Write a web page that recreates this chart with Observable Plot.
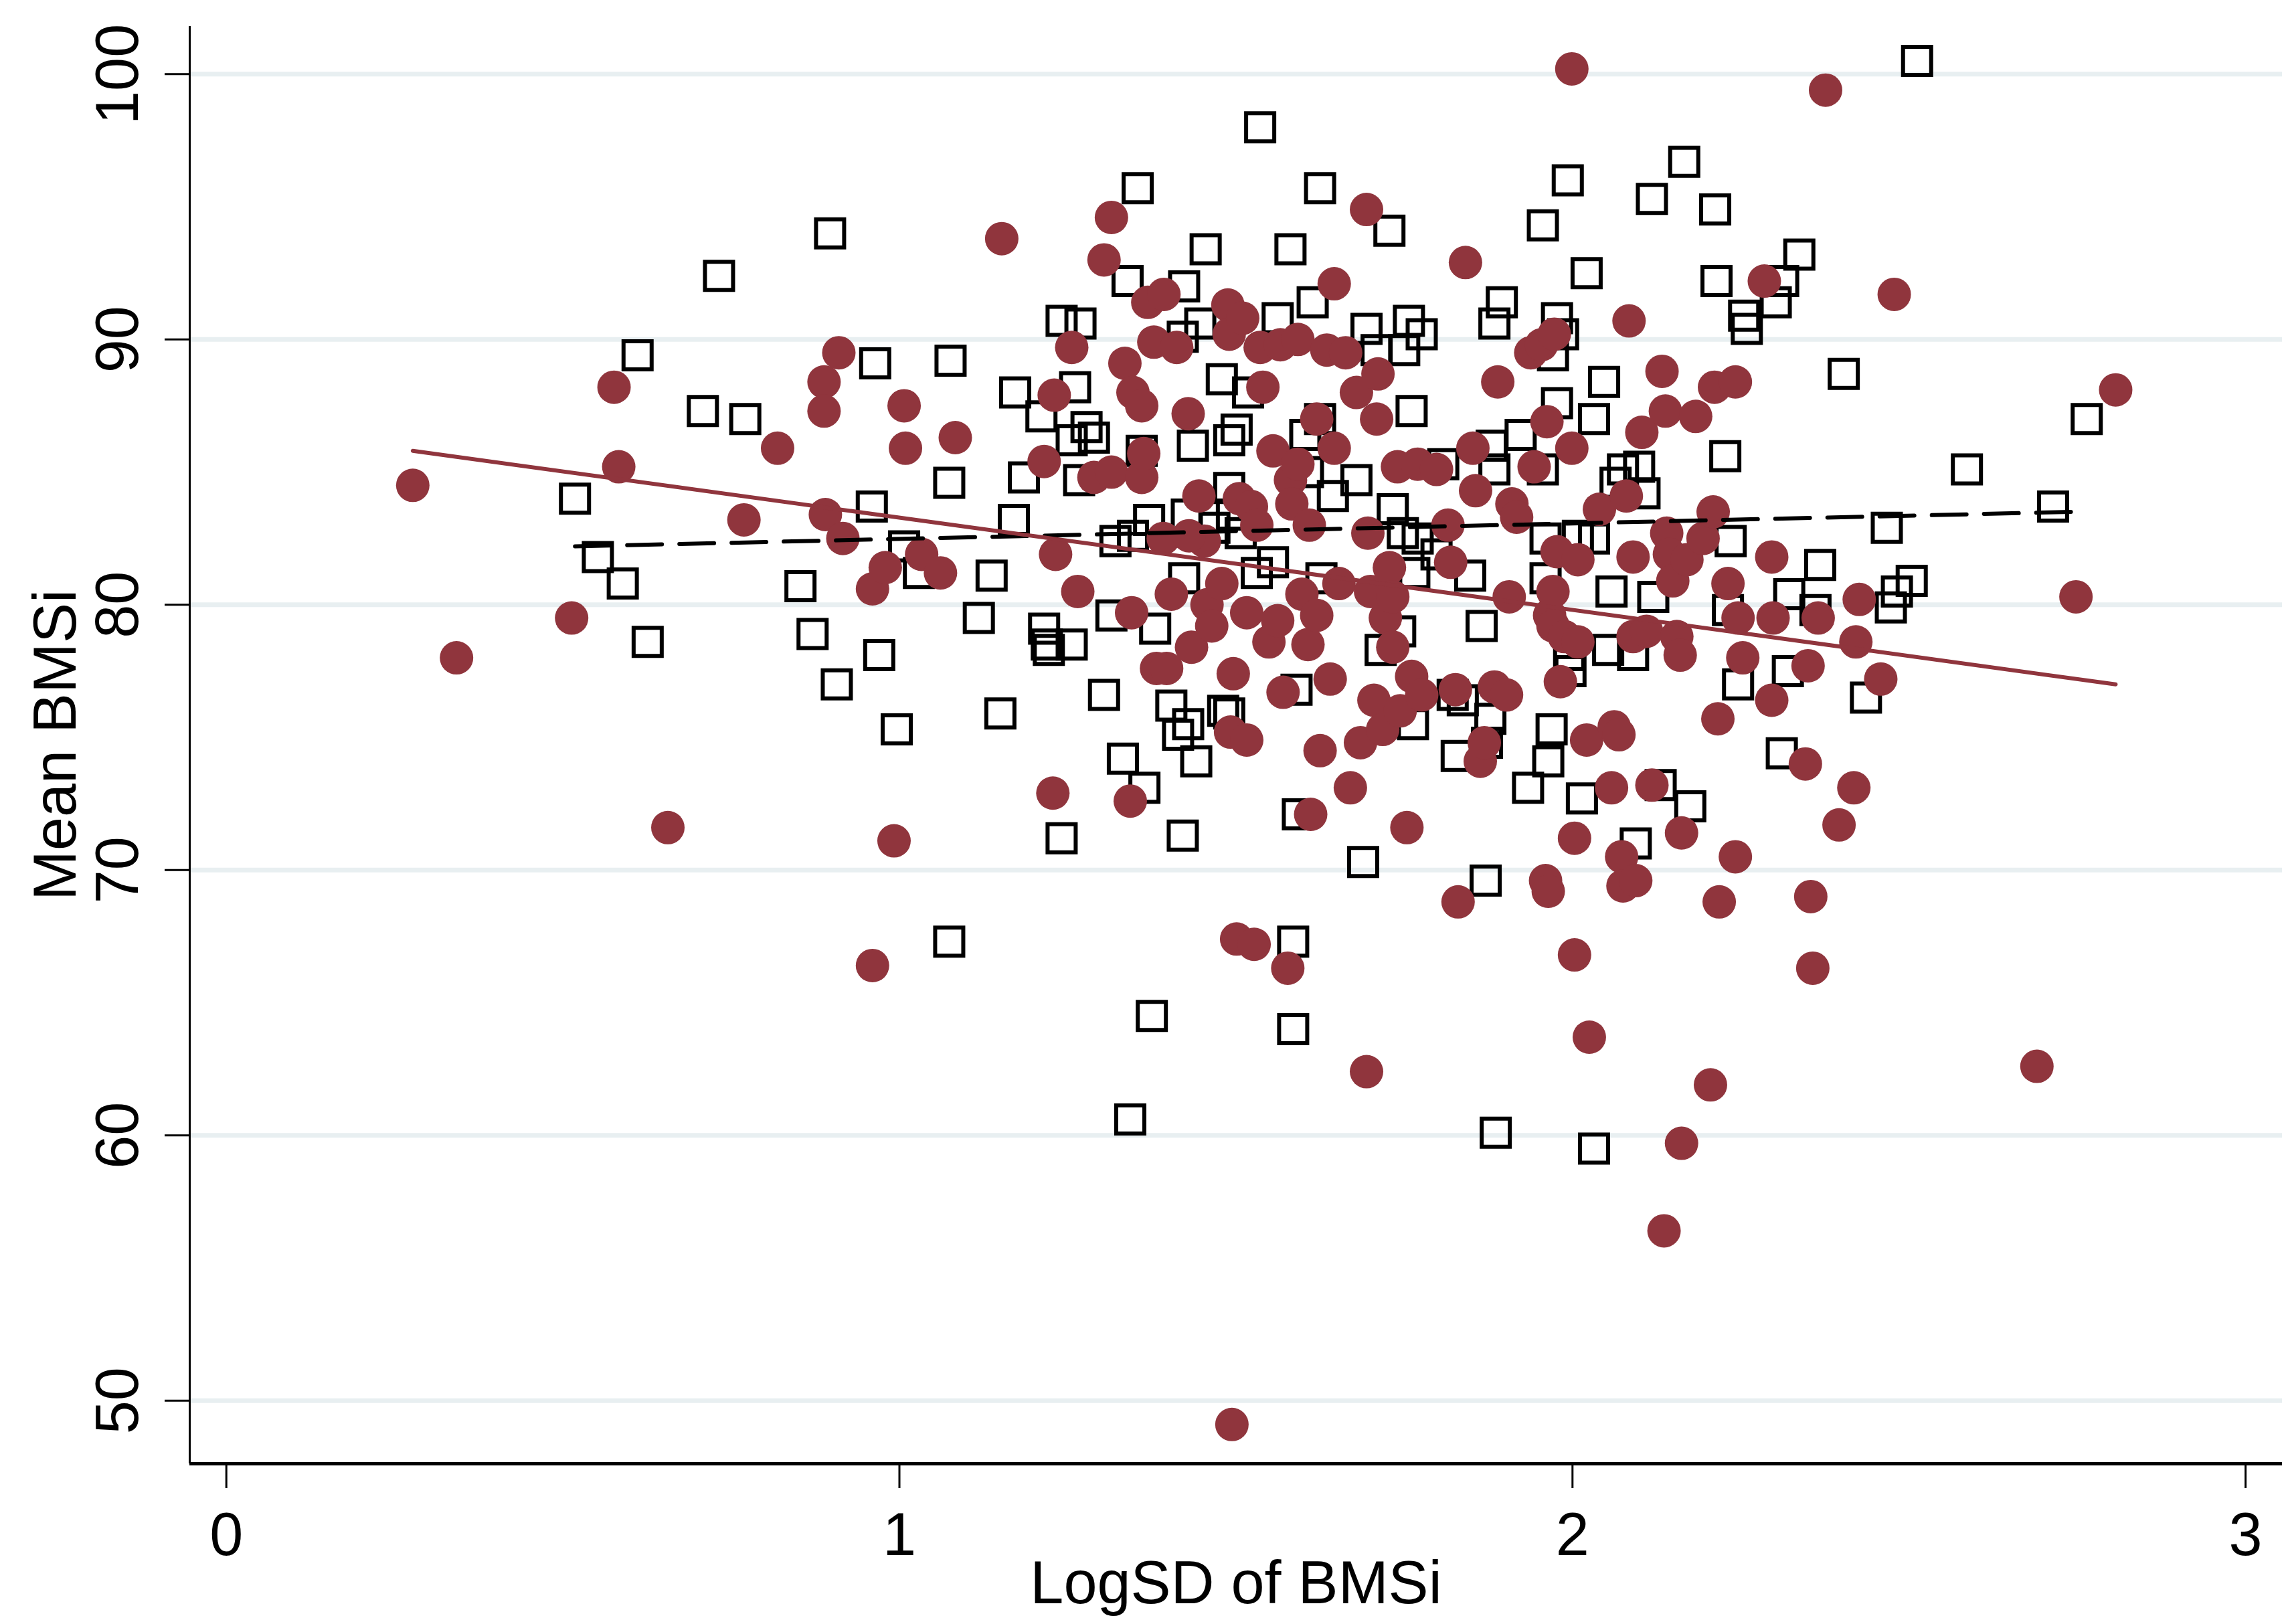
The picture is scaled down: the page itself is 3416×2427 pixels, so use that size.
<!DOCTYPE html>
<html>
<head>
<meta charset="utf-8">
<script src="https://cdn.jsdelivr.net/npm/d3@7"></script>
<script src="https://cdn.jsdelivr.net/npm/@observablehq/plot@0.6"></script>
<style>
html, body { margin: 0; padding: 0; background: #ffffff; overflow: hidden; }
#chart svg { display: block; }
</style>
</head>
<body>
<div id="chart"></div>
<script>
// ---- Data ----
const squareX = [0.518,0.552,0.589,0.611,0.626,0.708,0.732,0.771,0.853,0.871,0.897,0.907,0.959,0.964,0.970,0.996,1.007,1.029,1.074,1.076,1.074,1.118,1.137,1.150,1.172,1.170,1.185,1.211,1.215,1.219,1.241,1.241,1.256,1.261,1.269,1.278,1.267,1.304,1.315,1.321,1.332,1.339,1.343,1.347,1.354,1.364,1.375,1.380,1.404,1.414,1.421,1.423,1.429,1.436,1.441,1.455,1.468,1.479,1.490,1.501,1.507,1.518,1.531,1.536,1.555,1.562,1.581,1.585,1.585,1.592,1.603,1.607,1.625,1.614,1.627,1.644,1.689,1.694,1.709,1.728,1.733,1.744,1.750,1.757,1.761,1.763,1.770,1.776,1.798,1.808,1.828,1.837,1.848,1.865,1.871,1.873,1.880,1.884,1.886,1.895,1.923,1.934,1.956,1.960,1.964,1.969,1.977,1.977,1.993,1.997,2.008,2.014,2.021,2.032,2.032,2.047,2.058,2.064,2.094,2.099,2.107,2.118,2.120,2.131,2.166,2.175,2.212,2.214,2.227,2.235,2.246,2.255,2.259,2.302,2.311,2.322,2.320,2.337,2.368,2.361,2.403,2.436,2.467,2.473,2.482,2.504,2.512,2.586,2.714,2.764,1.679,1.748,1.765,2.032,1.960,1.715,1.995,2.053,1.590,1.822,1.878,1.884,2.075,1.956,1.256,1.289,1.360,1.490,1.490,1.371,1.427,1.423,1.222,1.481,1.494,1.986,1.971,1.625,2.313,2.231,2.090,1.447,1.421];
const squareY = [84.0,81.8,80.8,89.4,78.6,87.3,92.4,87.0,80.7,78.9,94.0,77.0,83.7,89.1,78.1,75.3,82.2,81.2,84.6,89.2,67.3,79.5,81.1,75.9,88.0,83.2,84.8,87.1,79.1,78.5,90.7,71.2,78.5,88.2,90.6,86.7,84.7,76.6,79.6,82.4,74.2,92.2,60.6,82.6,95.7,73.1,64.5,79.1,76.2,75.1,71.3,92.0,75.5,86.0,74.1,93.4,82.9,88.5,75.9,86.6,82.7,88.0,81.2,98.0,81.6,90.8,93.4,67.3,64.0,72.1,86.4,85.0,95.7,91.4,81.0,84.1,70.3,90.4,89.6,94.1,83.6,79.0,89.6,90.7,87.3,75.5,82.5,90.2,81.9,85.3,74.3,76.4,81.1,79.2,69.6,74.8,86.0,90.6,60.1,91.4,86.4,73.1,94.3,82.5,74.1,75.3,90.8,87.6,96.0,77.5,82.6,72.7,92.5,59.5,87.0,88.4,80.5,84.6,71.0,85.2,84.2,95.3,80.3,73.2,96.7,72.4,94.9,92.2,85.6,82.4,77.0,90.9,90.4,91.4,74.4,80.4,77.5,93.2,81.5,79.8,88.7,76.5,82.9,79.9,80.5,80.9,100.5,85.1,83.7,87.0,84.7,82.7,81.2,82.5,81.0,78.3,78.1,78.3,76.8,76.6,75.7,85.1,85.1,85.1,86.2,86.3,85.8,86.2,84.4,83.2,83.4,81.0,78.3,76.0,83.4,90.2,89.4,87.0,92.2,79.8,78.1,90.6,90.1];

const circleX = [0.277,0.342,0.513,0.576,0.583,0.656,0.769,0.819,0.888,0.888,0.890,0.910,0.916,0.960,0.960,0.979,0.992,1.007,1.009,1.033,1.061,1.083,1.152,1.215,1.228,1.230,1.232,1.256,1.265,1.289,1.304,1.315,1.315,1.335,1.343,1.345,1.347,1.360,1.360,1.369,1.378,1.393,1.382,1.397,1.404,1.412,1.429,1.434,1.445,1.453,1.457,1.464,1.479,1.488,1.490,1.494,1.492,1.496,1.501,1.505,1.510,1.516,1.516,1.523,1.527,1.531,1.536,1.540,1.549,1.555,1.562,1.566,1.570,1.577,1.581,1.592,1.598,1.607,1.611,1.620,1.620,1.625,1.635,1.640,1.646,1.646,1.653,1.663,1.670,1.679,1.685,1.694,1.694,1.696,1.700,1.705,1.711,1.709,1.718,1.722,1.728,1.733,1.740,1.744,1.754,1.761,1.770,1.776,1.798,1.815,1.819,1.826,1.830,1.841,1.852,1.856,1.863,1.869,1.884,1.889,1.902,1.906,1.910,1.917,1.938,1.943,1.954,1.960,1.964,1.962,1.966,1.971,1.971,1.973,1.977,1.982,1.988,1.999,1.999,2.003,2.003,2.008,2.008,2.021,2.025,2.040,2.058,2.062,2.069,2.073,2.075,2.080,2.084,2.090,2.090,2.094,2.103,2.110,2.118,2.133,2.136,2.138,2.140,2.144,2.149,2.155,2.160,2.162,2.162,2.170,2.183,2.194,2.205,2.209,2.211,2.216,2.218,2.231,2.242,2.242,2.246,2.253,2.285,2.296,2.296,2.298,2.346,2.350,2.354,2.357,2.365,2.376,2.396,2.418,2.421,2.426,2.458,2.478,2.690,2.748,2.807,1.592,1.583,1.609,1.733,1.363,1.392,1.430];
const circleY = [84.5,78.0,79.5,88.2,85.2,71.6,83.2,85.9,88.4,87.3,83.4,89.5,82.5,66.4,80.6,81.4,71.1,87.5,85.9,81.9,81.2,86.3,93.8,85.4,72.9,87.9,81.9,89.7,80.5,84.8,93.0,94.6,85.0,89.1,72.6,79.7,88.0,84.8,87.5,91.4,89.9,91.7,77.6,77.6,80.4,89.7,87.2,78.4,84.1,82.4,80.0,79.2,80.8,91.3,90.2,49.1,75.2,77.4,67.4,84.0,90.8,74.9,79.7,83.7,67.2,83.0,89.7,88.2,78.6,85.8,79.4,89.8,76.7,66.3,84.7,90.0,80.4,78.5,72.1,87.0,79.6,74.5,89.6,77.2,92.1,85.9,80.8,89.5,73.1,88.0,74.8,94.9,62.4,82.7,80.5,76.4,88.7,87.0,75.3,79.5,81.4,78.4,85.2,76.0,71.6,77.3,85.3,76.6,85.1,83.0,81.6,76.8,68.8,92.9,85.9,84.3,74.1,74.8,76.9,88.4,76.6,80.3,83.8,83.3,89.5,85.2,89.8,69.6,69.2,86.9,79.6,80.5,79.2,90.2,82.0,77.1,78.8,100.2,85.9,71.2,66.8,81.7,78.6,74.9,63.7,83.6,73.1,75.4,75.1,70.5,69.4,84.1,90.7,81.8,78.8,69.6,86.5,79.0,73.2,88.8,56.4,87.3,82.7,81.9,80.9,78.8,78.1,71.4,59.7,81.7,87.1,82.5,61.9,83.5,88.2,75.7,68.8,80.8,88.4,70.5,79.5,78.0,92.2,76.4,81.8,79.5,74.0,77.7,69.0,66.3,79.5,99.4,71.7,73.1,78.6,80.2,77.2,91.7,62.6,80.3,88.1,85.3,83.8,83.0,80.3,85.7,82.5,82.6];

// Fitted lines (end points of each group's linear fit)
const fitCircleX = [0.277, 2.807];
const fitCircleY = [85.8, 77.0];
const fitSquareX = [0.518, 2.742];
const fitSquareY = [82.2, 83.5];

const xTicks = [0, 1, 2, 3];
const yTicks = [50, 60, 70, 80, 90, 100];
const xDomain = [-0.0544, 3.0546];
const yDomain = [47.62, 101.80];
const xTitle = "LogSD of BMSi";
const yTitle = "Mean BMSi";

// ---- Build tables ----
const squares = squareX.map((x, i) => ({x, y: squareY[i]}));
const circles = circleX.map((x, i) => ({x, y: circleY[i]}));
const fitCircle = fitCircleX.map((x, i) => ({x, y: fitCircleY[i]}));
const fitSquare = fitSquareX.map((x, i) => ({x, y: fitSquareY[i]}));

const RED = "#90353d";
const FONT = 90;

const chart = Plot.plot({
  width: 3416,
  height: 2427,
  marginLeft: 283,
  marginRight: 6,
  marginTop: 39,
  marginBottom: 240,
  style: {fontFamily: "'Liberation Sans', Arial, sans-serif", background: "#ffffff", color: "#000"},
  x: {domain: xDomain},
  y: {domain: yDomain},
  marks: [
    Plot.gridY(yTicks, {stroke: "#e8eff1", strokeOpacity: 1, strokeWidth: 7}),
    Plot.axisY(yTicks, {tickSize: 37, tickFormat: () => "", strokeWidth: 3, label: null}),
    Plot.axisX(xTicks, {tickSize: 37, tickPadding: 36, fontSize: FONT, strokeWidth: 3, label: null,
      tickFormat: d => String(d)}),
    Plot.text(yTicks, {y: d => d, text: d => String(d), frameAnchor: "left", dx: -106, rotate: -90,
      fontSize: FONT, textAnchor: "middle", lineAnchor: "middle"}),
    Plot.text([yTitle], {text: d => d, frameAnchor: "left", dx: -199, rotate: -90,
      fontSize: FONT, textAnchor: "middle", lineAnchor: "middle"}),
    Plot.text([xTitle], {text: d => d, frameAnchor: "bottom", dy: 208, fontSize: FONT,
      textAnchor: "middle", lineAnchor: "bottom"}),
    Plot.ruleX([xDomain[0]], {stroke: "#000", strokeWidth: 3}),
    Plot.ruleY([yDomain[0]], {stroke: "#000", strokeWidth: 5}),
    Plot.dot(squares, {x: "x", y: "y", symbol: "square", r: 23.7, stroke: "#000", fill: "none", strokeWidth: 6}),
    Plot.dot(circles, {x: "x", y: "y", r: 25, fill: RED, stroke: "none"}),
    Plot.line(fitSquare, {x: "x", y: "y", stroke: "#000", strokeWidth: 6, strokeDasharray: "52,26"}),
    Plot.line(fitCircle, {x: "x", y: "y", stroke: RED, strokeWidth: 6})
  ]
});

document.getElementById("chart").appendChild(chart);
</script>
</body>
</html>
